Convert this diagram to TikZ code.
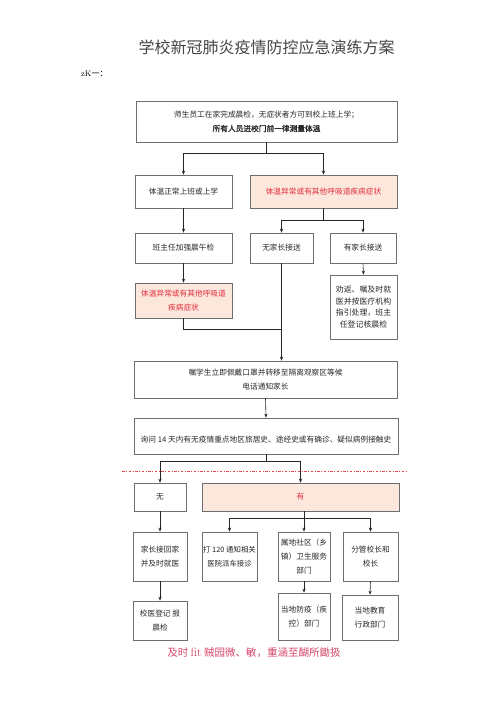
\documentclass[tikz,border=0pt]{standalone}
\usepackage{fontspec}
\newfontfamily\cjk{Noto Sans CJK SC}
\newfontfamily\cjkb[FakeBold=1.2]{Noto Sans CJK SC}
\usetikzlibrary{arrows.meta}
\definecolor{bordergray}{RGB}{110,110,110}
\definecolor{pinkfill}{RGB}{252,231,220}
\definecolor{redtxt}{RGB}{226,45,60}
\definecolor{txtgray}{RGB}{40,40,40}
\definecolor{dashred}{RGB}{232,70,80}
\definecolor{noteclr}{RGB}{214,72,108}
\definecolor{titleclr}{RGB}{70,70,70}
\begin{document}
\begin{tikzpicture}[x=1pt,y=-1pt,
  box/.style={draw=bordergray, line width=0.7pt, fill=white, inner sep=1pt, align=center,
    font=\cjk\fontsize{7.7}{14}\selectfont, text=txtgray},
  redbox/.style={box, fill=pinkfill, text=redtxt},
  arr/.style={-{Stealth[length=4pt,width=3.2pt]}, line width=0.6pt, draw=black!85},
  ln/.style={line width=0.6pt, draw=black!85},
  reddash/.style={draw=dashred, line width=0.9pt, dash pattern=on 2.5pt off 1.5pt on 1pt off 1.5pt}]
\fill[white] (0,0) rectangle (503,711);
\useasboundingbox (0,0) rectangle (503,711);

% title and headings
\node[font=\cjk\fontsize{16}{18}\selectfont, text=titleclr] (title) at (266.5,47) {学校新冠肺炎疫情防控应急演练方案};
\node[anchor=west, font=\fontsize{8}{10}\selectfont, text=black, inner sep=0pt] (head) at (81,74) {zK{\cjk 一：}};

% boxes
\node[box, minimum width=261pt, minimum height=41pt] (top) at (266.5,121.5)
  {师生员工在家完成晨检，无症状者方可到校上班上学；\\{\cjkb 所有人员进校门前一律测量体温}};
\node[box, minimum width=97pt, minimum height=33pt] (n1) at (183.5,191.5) {体温正常上班或上学};
\node[redbox, minimum width=147pt, minimum height=33pt] (r1) at (323.5,191.5) {体温异常或有其他呼吸道疾病症状};
\node[box, minimum width=97pt, minimum height=30pt] (n2) at (183.5,248) {班主任加强晨午检};
\node[box, minimum width=63pt, minimum height=30pt] (n3) at (281.5,248) {无家长接送};
\node[box, minimum width=66pt, minimum height=30pt] (n4) at (363,248) {有家长接送};
\node[box, minimum width=67pt, minimum height=64pt, font=\cjk\fontsize{7.9}{11.5}\selectfont] (n5) at (363.5,307)
  {劝返、嘱及时就\\医并按医疗机构\\指引处理，班主\\任登记核晨检};
\node[redbox, minimum width=97pt, minimum height=35pt] (r2) at (183.5,300.5) {体温异常或有其他呼吸道\\疾病症状};
\node[box, minimum width=263pt, minimum height=37pt] (n6) at (265.5,379.5)
  {嘱学生立即佩戴口罩并转移至隔离观察区等候\\电话通知家长};
\node[box, minimum width=264pt, minimum height=36pt, text height=14pt] (n7) at (266,436)
  {询问 14 天内有无疫情重点地区旅居史、途经史或有确诊、疑似病例接触史};
\node[box, minimum width=52pt, minimum height=28pt] (n8) at (160,497) {无};
\node[redbox, minimum width=197pt, minimum height=28pt] (r3) at (300.5,497) {有};
\node[box, minimum width=54pt, minimum height=49pt] (b1) at (160,556.5) {家长接回家\\并及时就医};
\node[box, minimum width=55pt, minimum height=49pt, font=\cjk\fontsize{7.4}{14}\selectfont] (b2) at (229.5,556.5) {打 120 通知相关\\医院派车接诊};
\node[box, minimum width=52pt, minimum height=49pt] (b3) at (304,556.5) {属地社区（乡\\镇）卫生服务\\部门};
\node[box, minimum width=55pt, minimum height=49pt] (b4) at (370.5,556.5) {分管校长和\\校长};
\node[box, minimum width=54pt, minimum height=39pt] (c1) at (160,620.5) {校医登记 报\\晨检};
\node[box, minimum width=52pt, minimum height=47pt] (c3) at (304,616.5) {当地防疫（疾\\控）部门};
\node[box, minimum width=56pt, minimum height=45pt] (c4) at (370,617.5) {当地教育\\行政部门};

% note
\node[font=\cjk\fontsize{10.5}{12}\selectfont, text=noteclr] (note) at (254,653)
  {及时 {\rmfamily\fontsize{12}{12}\selectfont fit} 贼园微、敏，重涵至醐所鋤扱};

% dashed separator
\draw[reddash] (122,471) -- (408,471);

% connectors
\draw[arr] (top.south) -- ++(0,11) -| (n1.north);
\draw[arr] (top.south) -- ++(0,11) -| (r1.north);
\draw[arr] (n1.south) -- (n2.north);
\draw[arr] (r1.south) -- ++(0,12) -| (n3.north);
\draw[arr] (r1.south) -- ++(0,12) -| (n4.north);
\draw[arr] (n4.south) -- (n5.north);
\draw[arr] (n2.south) -- (r2.north);
\draw[ln] (r2.south) -- ++(0,11) -| (n3.south);
\draw[arr] (n3.south) -- (n3.south |- n6.north);
\draw[arr] (n6.south) -- (n7.north);
\draw[arr] (n7.south) -- ++(0,7) -| (n8.north);
\draw[arr] (n7.south) -- ++(0,7) -| (r3.north);
\draw[arr] (n8.south) -- (b1.north);
\draw[arr] (b3.north |- r3.south) -- (b3.north);
\draw[arr] (b3.north |- r3.south) -- ++(0,7) -| (b2.north);
\draw[arr] (b3.north |- r3.south) -- ++(0,7) -| (b4.north);
\draw[arr] (b1.south) -- (c1.north);
\draw[arr] (b3.south) -- (c3.north);
\draw[arr] (b4.south) -- (c4.north);
\end{tikzpicture}
\end{document}
